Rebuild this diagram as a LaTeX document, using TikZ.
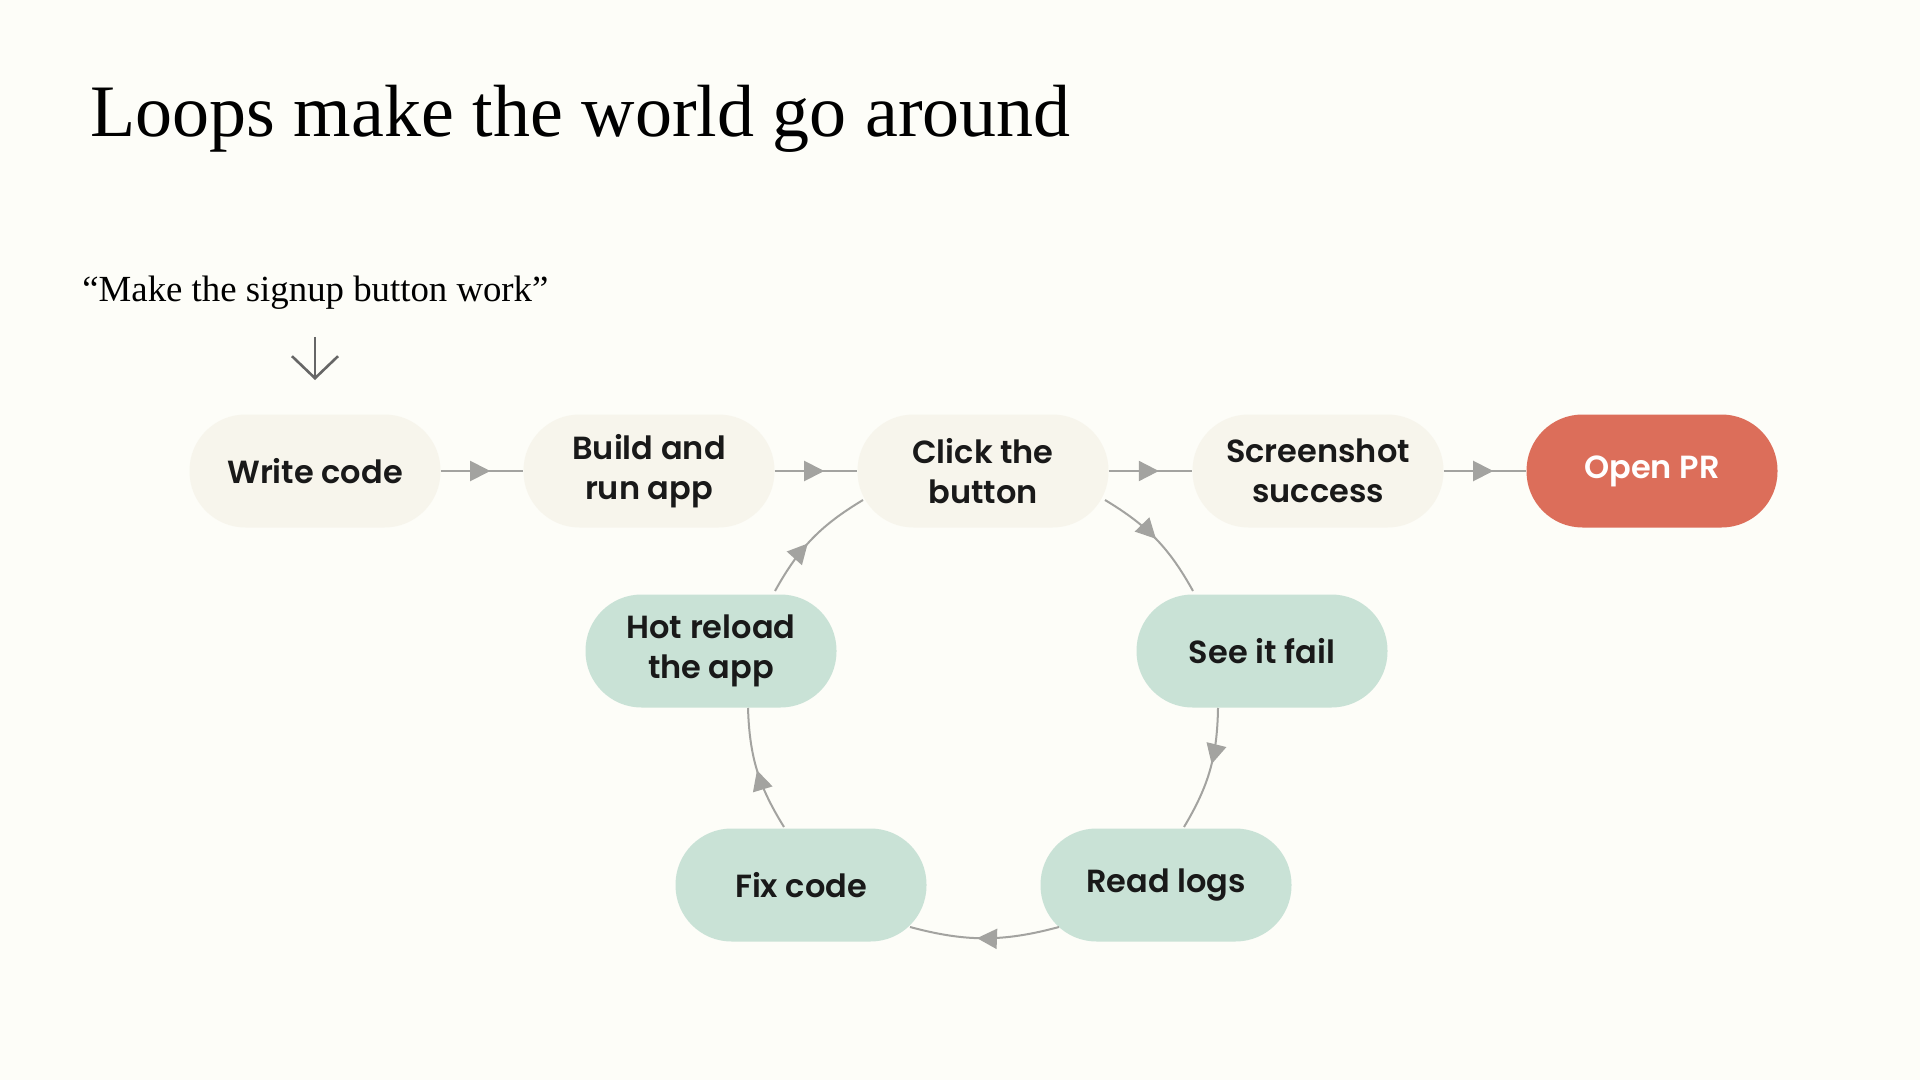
\documentclass[tikz,border=0pt]{standalone}
\usepackage{fontspec}
\setmainfont{Liberation Serif}
\newfontfamily\pop{Poppins}[BoldFont=* SemiBold]
\usetikzlibrary{arrows.meta,decorations.markings}
\definecolor{bg}{HTML}{FDFDF8}
\definecolor{beige}{HTML}{F7F5EC}
\definecolor{mint}{HTML}{C9E2D6}
\definecolor{coral}{HTML}{DC6E5A}
\definecolor{ln}{HTML}{A3A3A0}
\begin{document}
\begin{tikzpicture}[x=0.5pt,y=-0.5pt,
 box/.style={rounded corners=28pt,minimum width=125.5pt,minimum height=56.5pt,align=center,font=\pop\bfseries\fontsize{16}{20}\selectfont,inner sep=0pt},
 bei/.style={box,fill=beige,text=black!90},
 min/.style={box,fill=mint,text=black!90},
 con/.style={draw=ln,line width=1pt,postaction={decorate},decoration={markings,mark=at position #1 with {\arrow[ln]{Triangle[length=10pt,width=10pt]}}}},
 con/.default=0.6]
\fill[bg] (0,0) rectangle (1920,1080);
\useasboundingbox (0,0) rectangle (1920,1080);
\node[anchor=base west,font=\fontsize{37}{44}\selectfont,inner sep=0] (title) at (90,137) {Loops make the world go around};
\node[anchor=base west,font=\fontsize{18.4}{22}\selectfont,inner sep=0] (quote) at (82,302) {“Make the signup button work”};
\node[bei] (w) at (315,471) {Write code};
\node[bei] (b) at (649,471) {Build and\\run app};
\node[bei] (c) at (983,471) {Click the\\button};
\node[bei] (s) at (1318,471) {Screenshot\\success};
\node[box,fill=coral,text=white] (o) at (1652,471) {Open PR};
\node[min] (h) at (711,651) {Hot reload\\the app};
\node[min] (f) at (1262,651) {See it fail};
\node[min] (x) at (801,885) {Fix code};
\node[min] (r) at (1166,885) {Read logs};
\coordinate (qa) at (315,337);
\coordinate (qb) at (315,380);
\draw[draw=black!60,line width=1.3pt,-{Straight Barb[length=11pt,width=23pt,line width=1.3pt]}] (qa) -- (qb);
\draw[con] (w.east) -- (b.west);
\draw[con] (b.east) -- (c.west);
\draw[con] (c.east) -- (s.west);
\draw[con] (s.east) -- (o.west);
\draw[con=0.5] (c.center) ++(122,29) to[bend left=15] ++(88,91);
\draw[con=0.45] (f.center) ++(-44,57) to[bend left=15] ++(-34,119);
\draw[con=0.55] (r.center) ++(-107,42) to[bend left=15] ++(-149,0);
\draw[con=0.5] (x.center) ++(-17,-58) to[bend left=15] ++(-36,-119);
\draw[con=0.45] (h.center) ++(64,-60) to[bend left=15] ++(88,-91);
\end{tikzpicture}
\end{document}
